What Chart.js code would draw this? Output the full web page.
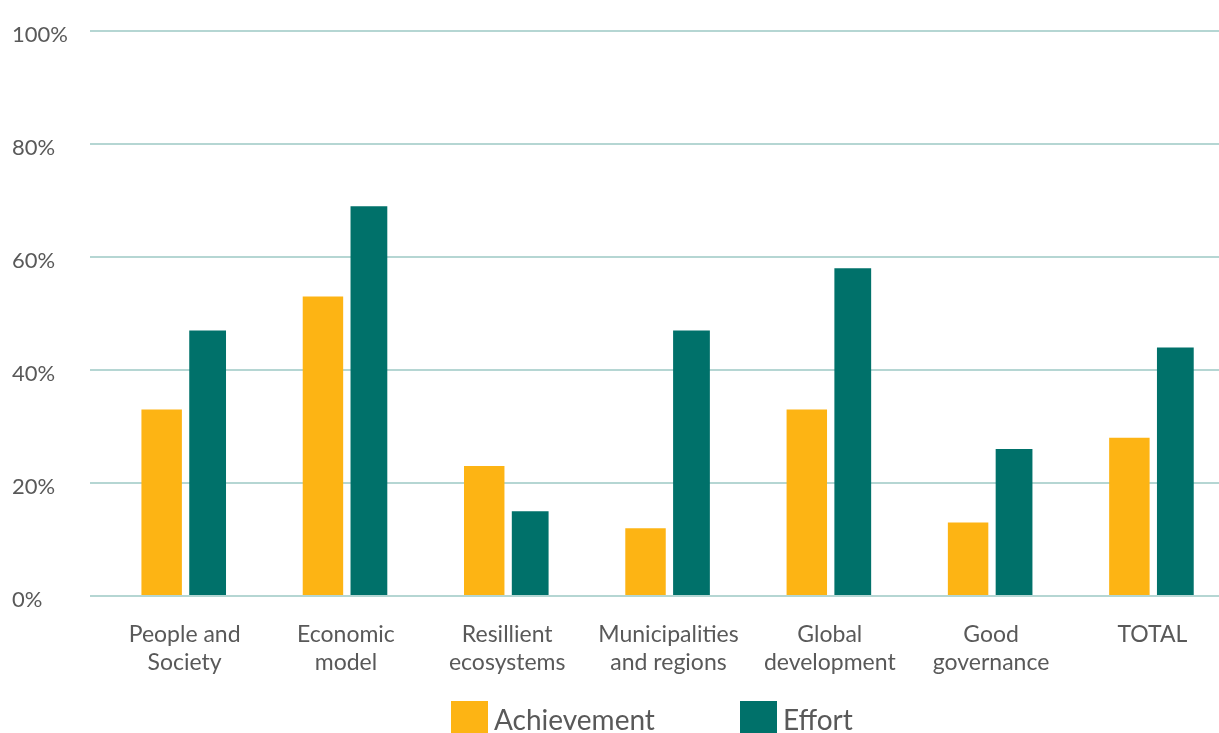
<!DOCTYPE html>
<html>
<head>
<meta charset="utf-8">
<script src="https://cdn.jsdelivr.net/npm/chart.js@4"></script>
<style>
  html, body { margin: 0; padding: 0; background: #fff; overflow: hidden; }
  #wrap { position: relative; width: 1233px; height: 733px; }
  #legend {
    position: absolute; left: 451px; top: 701px;
    display: flex; gap: 85px;
    font-family: Lato, sans-serif; font-size: 28px; color: #595959;
  }
  #legend .item { display: flex; align-items: center; gap: 6px; line-height: 37px; }
  #legend .box { width: 37px; height: 37px; }
</style>
</head>
<body>
<div id="wrap">
  <canvas id="chart" width="1233" height="733"></canvas>
  <div id="legend"></div>
</div>
<script>
const categories = [
  ['People and', 'Society'],
  ['Economic', 'model'],
  ['Resillient', 'ecosystems'],
  ['Municipalities', 'and regions'],
  ['Global', 'development'],
  ['Good', 'governance'],
  'TOTAL'
];
const achievement = [33, 53, 23, 12, 33, 13, 28];
const effort = [47, 69, 15, 47, 58, 26, 44];
const yTicks = [0, 20, 40, 60, 80, 100];

const textColor = '#595959';
const gridColor = '#b5d6d3';

// builds the legend from the chart's own datasets
const htmlLegend = {
  id: 'htmlLegend',
  afterUpdate(chart) {
    const box = document.getElementById('legend');
    box.innerHTML = '';
    chart.data.datasets.forEach((ds) => {
      const item = document.createElement('div');
      item.className = 'item';
      const sw = document.createElement('span');
      sw.className = 'box';
      sw.style.background = ds.backgroundColor;
      const txt = document.createElement('span');
      txt.textContent = ds.label;
      item.appendChild(sw);
      item.appendChild(txt);
      box.appendChild(item);
    });
  }
};

const ctx = document.getElementById('chart').getContext('2d');
new Chart(ctx, {
  type: 'bar',
  data: {
    labels: categories,
    datasets: [
      {
        label: 'Achievement',
        data: achievement,
        backgroundColor: '#fdb414',
        categoryPercentage: 0.57,
        barPercentage: 0.88,
      },
      {
        label: 'Effort',
        data: effort,
        backgroundColor: '#00716a',
        categoryPercentage: 0.57,
        barPercentage: 0.80,
      },
    ],
  },
  options: {
    responsive: false,
    animation: false,
    layout: { padding: { top: 31, left: 12, right: 0, bottom: 0 } },
    plugins: {
      legend: { display: false },
      tooltip: { enabled: false },
    },
    scales: {
      x: {
        grid: { display: false, drawTicks: false },
        border: { display: false },
        ticks: {
          color: textColor,
          font: { family: 'Lato', size: 23, lineHeight: 1.24 },
          padding: 24,
          maxRotation: 0,
          autoSkip: false,
        },
        afterFit(scale) { scale.height = 137; },
      },
      y: {
        min: 0,
        max: 100,
        afterBuildTicks(scale) { scale.ticks = yTicks.map((v) => ({ value: v })); },
        grid: { color: gridColor, lineWidth: 2, drawTicks: true, tickLength: 14 },
        border: { display: false },
        ticks: {
          color: textColor,
          font: { family: 'Lato', size: 22 },
          crossAlign: 'far',
          labelOffset: 4,
          callback: (v) => v + '%',
        },
        afterFit(scale) { scale.width = 92; },
      },
    },
  },
  plugins: [htmlLegend],
});
</script>
</body>
</html>
